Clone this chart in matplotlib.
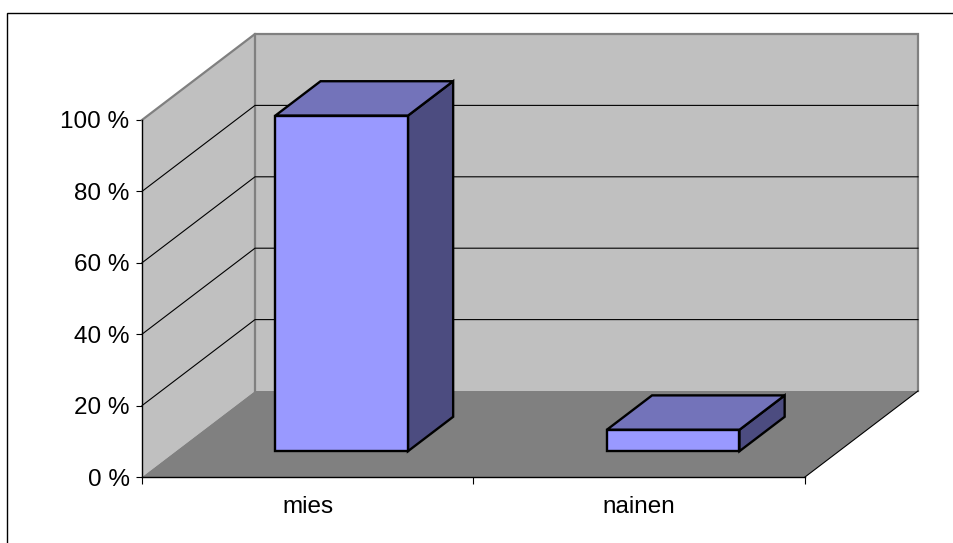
import matplotlib
matplotlib.use('Agg')
import matplotlib.pyplot as plt
from matplotlib.patches import Polygon, Rectangle

plt.rcParams['font.family'] = ['Liberation Sans', 'DejaVu Sans']

categories = ['mies', 'nainen']
values = [0.94, 0.06]
tick_values = [0, 0.2, 0.4, 0.6, 0.8, 1.0]
tick_labels = ['0 %', '20 %', '40 %', '60 %', '80 %', '100 %']

# depth of the 3d box, in axis units (x: categories, y: 0..1)
DX = 113 / 331.5
DY = 86 / 357

bar_w = 0.4
d0, d1 = 0.3, 0.7


def proj(x, v, d):
    return (x + d * DX, v + d * DY)


fig = plt.figure(figsize=(9.54, 5.43), dpi=100)
ax = fig.add_axes([142 / 954, 66 / 543, 663 / 954, 357 / 543])
ax.set_xlim(0, len(categories))
ax.set_ylim(0, 1)
ax.patch.set_visible(False)

# outer frame (runs off the right and bottom of the picture)
fig.patches.append(Rectangle((7.5 / 954, -10 / 543), 960 / 954, 540 / 543,
                             transform=fig.transFigure, fill=False,
                             edgecolor='black', lw=1))

n = len(categories)
wall = '#c0c0c0'
edge = '#808080'

# left wall, back wall, floor
ax.add_patch(Polygon([proj(0, 0, 0), proj(0, 1, 0), proj(0, 1, 1), proj(0, 0, 1)],
                     closed=True, facecolor=wall, edgecolor='none', clip_on=False, zorder=1))
ax.add_patch(Polygon([proj(0, 0, 1), proj(n, 0, 1), proj(n, 1, 1), proj(0, 1, 1)],
                     closed=True, facecolor=wall, edgecolor='none', clip_on=False, zorder=1))
ax.add_patch(Polygon([proj(0, 0, 0), proj(n, 0, 0), proj(n, 0, 1), proj(0, 0, 1)],
                     closed=True, facecolor='#808080', edgecolor='none', clip_on=False, zorder=1))

# wall edges
pts = [proj(0, 1, 0), proj(0, 1, 1), proj(n, 1, 1), proj(n, 0, 1)]
ax.plot([p[0] for p in pts], [p[1] for p in pts], color=edge, lw=1.6,
        clip_on=False, zorder=2, solid_joinstyle='miter')
pts = [proj(0, 1, 1), proj(0, 0, 1)]
ax.plot([p[0] for p in pts], [p[1] for p in pts], color=edge, lw=1.6, clip_on=False, zorder=2)
pts = [proj(n, 0, 0), proj(n, 0, 1)]
ax.plot([p[0] for p in pts], [p[1] for p in pts], color='black', lw=0.8, clip_on=False, zorder=2)

# gridlines
for v in tick_values[1:-1]:
    pts = [proj(0, v, 0), proj(0, v, 1), proj(n, v, 1)]
    ax.plot([p[0] for p in pts], [p[1] for p in pts], color='black', lw=0.8,
            clip_on=False, zorder=2)

# bars
for i, v in enumerate(values):
    x0 = i + 0.5 - bar_w / 2
    x1 = i + 0.5 + bar_w / 2
    front = [proj(x0, 0, d0), proj(x1, 0, d0), proj(x1, v, d0), proj(x0, v, d0)]
    top = [proj(x0, v, d0), proj(x1, v, d0), proj(x1, v, d1), proj(x0, v, d1)]
    side = [proj(x1, 0, d0), proj(x1, 0, d1), proj(x1, v, d1), proj(x1, v, d0)]
    for poly, col in [(side, '#4c4c80'), (top, '#7373ba'), (front, '#9999ff')]:
        ax.add_patch(Polygon(poly, closed=True, facecolor=col, edgecolor='black',
                             lw=1.7, joinstyle='miter', clip_on=False, zorder=3))

for s in ['top', 'right']:
    ax.spines[s].set_visible(False)
ax.spines['left'].set_linewidth(1.0)
ax.spines['bottom'].set_linewidth(1.0)
ax.spines['left'].set_zorder(4)
ax.spines['bottom'].set_zorder(4)

ax.set_yticks(tick_values)
ax.set_yticklabels(tick_labels)
ax.tick_params(axis='y', direction='out', length=4, width=0.8, pad=5, labelsize=17.5)

ax.set_xticks(range(n + 1))
ax.set_xticklabels([])
ax.set_xticks([i + 0.5 for i in range(n)], minor=True)
ax.set_xticklabels(categories, minor=True)
ax.tick_params(axis='x', which='major', direction='out', length=5, width=0.8)
ax.tick_params(axis='x', which='minor', length=0, pad=14, labelsize=17.5)

fig.savefig('out.png', dpi=100)
